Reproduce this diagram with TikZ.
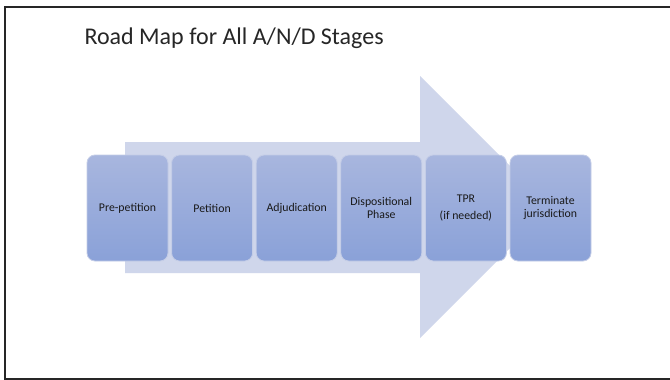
\documentclass[tikz,border=0pt]{standalone}
\usepackage{fontspec}
\setmainfont{Carlito}
\definecolor{arrowfill}{RGB}{207,214,235}
\definecolor{boxtop}{RGB}{168,182,222}
\definecolor{boxbottom}{RGB}{138,161,216}
\definecolor{boxedge}{RGB}{196,205,231}
\tikzset{
  stagebox/.style={rounded corners=8pt, top color=boxtop, bottom color=boxbottom,
    draw=boxedge, line width=0.8pt, minimum width=81pt, minimum height=106pt,
    inner sep=0pt, align=center, font=\fontsize{11.8}{13}\selectfont, text=black!90}
}
\begin{document}
\begin{tikzpicture}
        [x=1pt,y=-1pt]
        \useasboundingbox (0,0) rectangle (670,380);
        \fill[white] (0,0) rectangle (670,380);
        \draw[line width=1.6pt, black!85] (676,7) -- (5,7) -- (5,379) -- (676,379);

        \node[anchor=base west, font=\fontsize{24}{28}\selectfont, text=black!85] (title) at (81,44) {Road Map for All A/N/D Stages};

        \fill[arrowfill] (125,142) -- (420,142) -- (420,76) -- (551,207)
          -- (420,338) -- (420,273) -- (125,273) -- cycle;

        \foreach \i/\name/\txt in {0/pre/Pre-petition, 1/pet/Petition, 2/adj/Adjudication,
          3/disp/{Dispositional\\Phase}, 4/tpr/{TPR\\[4pt](if needed)},
          5/term/{Terminate\\jurisdiction}}
        {\node[stagebox] (\name) at (127.5+84.6*\i,208) {\txt};}
      \end{tikzpicture}
\end{document}
